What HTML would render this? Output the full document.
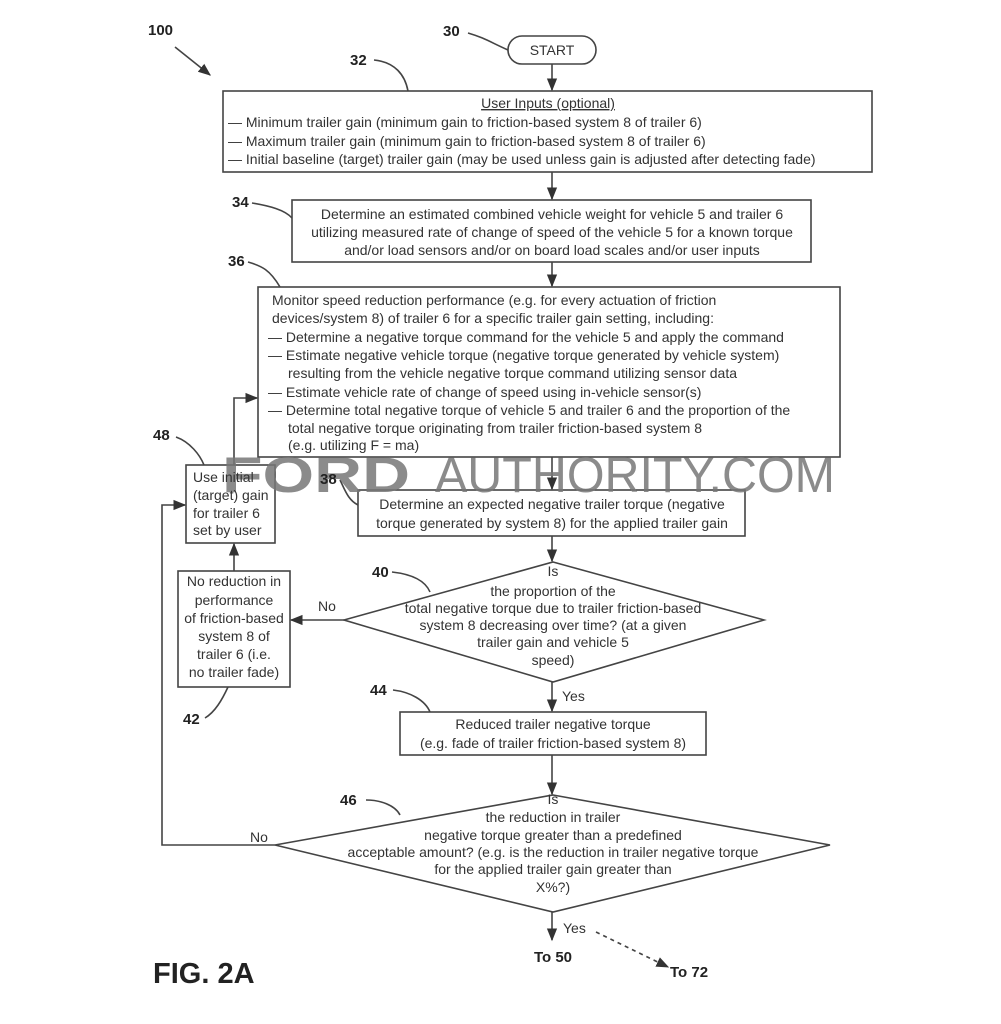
<!DOCTYPE html>
<html><head><meta charset="utf-8"><style>
html,body{margin:0;padding:0;background:#fff}
svg{display:block}
text{font-family:"Liberation Sans",Arial,sans-serif;fill:#333}
.t{font-size:14px}
.c{text-anchor:middle}
.n{font-weight:bold;font-size:15px;fill:#222}
</style></head><body>
<svg width="1001" height="1024" viewBox="0 0 1001 1024" xmlns="http://www.w3.org/2000/svg">
<defs><marker id="a" viewBox="0 0 10 10" refX="9" refY="5" markerWidth="8" markerHeight="8" orient="auto"><path d="M0,1 L10,5 L0,9 z" fill="#333"/></marker></defs>
<g stroke="#444" stroke-width="1.6" fill="none">
<rect x="508" y="36" width="88" height="28" rx="14"/>
<rect x="223" y="91" width="649" height="81"/>
<rect x="292" y="200" width="519" height="62"/>
<rect x="258" y="287" width="582" height="170"/>
<rect x="358" y="490" width="387" height="46"/>
<rect x="186" y="465" width="89" height="78"/>
<rect x="178" y="571" width="112" height="116"/>
<rect x="400" y="712" width="306" height="43"/>
<polygon points="553,562 764,620 553,682 344,620"/>
<polygon points="553,795 830,845 553,912 275,845"/>
<g marker-end="url(#a)">
<line x1="552" y1="64" x2="552" y2="90"/>
<line x1="552" y1="172" x2="552" y2="199"/>
<line x1="552" y1="262" x2="552" y2="286"/>
<line x1="552" y1="457" x2="552" y2="489"/>
<line x1="552" y1="536" x2="552" y2="561"/>
<line x1="552" y1="682" x2="552" y2="711"/>
<line x1="552" y1="755" x2="552" y2="794"/>
<line x1="552" y1="912" x2="552" y2="940"/>
<line x1="344" y1="620" x2="291" y2="620"/>
<line x1="234" y1="571" x2="234" y2="544"/>
<polyline points="234,465 234,398 257,398"/>
<polyline points="275,845 162,845 162,505 185,505"/>
<path d="M175,47 L210,75"/>
<path d="M596,932 L668,967" stroke-dasharray="4,4"/>
</g>
<path d="M468,33 C485,38 490,42 508,50"/>
<path d="M374,60 C395,62 405,75 408,91"/>
<path d="M252,203 C270,206 285,210 292,218"/>
<path d="M248,262 C262,266 270,270 280,287"/>
<path d="M176,437 C190,442 200,455 204,465"/>
<path d="M340,480 C345,490 348,500 358,505"/>
<path d="M392,572 C410,574 425,580 430,592"/>
<path d="M205,718 C215,712 222,700 228,687"/>
<path d="M393,690 C410,692 425,700 430,712"/>
<path d="M366,800 C380,800 395,805 400,815"/>
</g>
<text class="n" x="148" y="35">100</text>
<text class="n" x="443" y="36">30</text>
<text class="n" x="350" y="65">32</text>
<text class="n" x="232" y="207">34</text>
<text class="n" x="228" y="266">36</text>
<text class="n" x="153" y="440">48</text>
<text class="n" x="372" y="577">40</text>
<text class="n" x="183" y="724">42</text>
<text class="n" x="370" y="695">44</text>
<text class="n" x="340" y="805">46</text>
<text class="t c" x="552" y="55">START</text>
<text class="t c" x="548" y="108" text-decoration="underline">User Inputs (optional)</text>
<text class="t" x="228" y="127">— Minimum trailer gain (minimum gain to friction-based system 8 of trailer 6)</text>
<text class="t" x="228" y="146">— Maximum trailer gain (minimum gain to friction-based system 8 of trailer 6)</text>
<text class="t" x="228" y="164">— Initial baseline (target) trailer gain (may be used unless gain is adjusted after detecting fade)</text>
<text class="t c" x="552" y="219">Determine an estimated combined vehicle weight for vehicle 5 and trailer 6</text>
<text class="t c" x="552" y="237">utilizing measured rate of change of speed of the vehicle 5 for a known torque</text>
<text class="t c" x="552" y="255">and/or load sensors and/or on board load scales and/or user inputs</text>
<text class="t" x="272" y="305">Monitor speed reduction performance (e.g. for every actuation of friction</text>
<text class="t" x="272" y="323">devices/system 8) of trailer 6 for a specific trailer gain setting, including:</text>
<text class="t" x="268" y="342">— Determine a negative torque command for the vehicle 5 and apply the command</text>
<text class="t" x="268" y="360">— Estimate negative vehicle torque (negative torque generated by vehicle system)</text>
<text class="t" x="288" y="378">resulting from the vehicle negative torque command utilizing sensor data</text>
<text class="t" x="268" y="397">— Estimate vehicle rate of change of speed using in-vehicle sensor(s)</text>
<text class="t" x="268" y="415">— Determine total negative torque of vehicle 5 and trailer 6 and the proportion of the</text>
<text class="t" x="288" y="433">total negative torque originating from trailer friction-based system 8</text>
<text class="t" x="288" y="450">(e.g. utilizing F = ma)</text>
<text x="222" y="492" textLength="188" lengthAdjust="spacingAndGlyphs" style="font-size:50px;font-weight:bold;fill:#777;opacity:0.85">FORD</text>
<text x="435" y="492" textLength="400" lengthAdjust="spacingAndGlyphs" style="font-size:50px;fill:#777;opacity:0.85">AUTHORITY.COM</text>
<text class="n" x="320" y="484">38</text>
<text class="t" x="193" y="482">Use initial</text>
<text class="t" x="193" y="500">(target) gain</text>
<text class="t" x="193" y="518">for trailer 6</text>
<text class="t" x="193" y="535">set by user</text>
<text class="t c" x="552" y="509">Determine an expected negative trailer torque (negative</text>
<text class="t c" x="552" y="528">torque generated by system 8) for the applied trailer gain</text>
<text class="t c" x="553" y="576">Is</text>
<text class="t c" x="553" y="596">the proportion of the</text>
<text class="t c" x="553" y="613">total negative torque due to trailer friction-based</text>
<text class="t c" x="553" y="630">system 8 decreasing over time? (at a given</text>
<text class="t c" x="553" y="647">trailer gain and vehicle 5</text>
<text class="t c" x="553" y="665">speed)</text>
<text class="t" x="318" y="611">No</text>
<text class="t c" x="234" y="586">No reduction in</text>
<text class="t c" x="234" y="605">performance</text>
<text class="t c" x="234" y="623">of friction-based</text>
<text class="t c" x="234" y="641">system 8 of</text>
<text class="t c" x="234" y="659">trailer 6 (i.e.</text>
<text class="t c" x="234" y="677">no trailer fade)</text>
<text class="t" x="562" y="701">Yes</text>
<text class="t c" x="553" y="729">Reduced trailer negative torque</text>
<text class="t c" x="553" y="748">(e.g. fade of trailer friction-based system 8)</text>
<text class="t c" x="553" y="804">Is</text>
<text class="t c" x="553" y="822">the reduction in trailer</text>
<text class="t c" x="553" y="840">negative torque greater than a predefined</text>
<text class="t c" x="553" y="857">acceptable amount? (e.g. is the reduction in trailer negative torque</text>
<text class="t c" x="553" y="874">for the applied trailer gain greater than</text>
<text class="t c" x="553" y="892">X%?)</text>
<text class="t" x="250" y="842">No</text>
<text class="t" x="563" y="933">Yes</text>
<text class="n c" x="553" y="962">To 50</text>
<text class="n" x="670" y="977">To 72</text>
<text x="153" y="983" style="font-size:29px;font-weight:bold;fill:#222">FIG. 2A</text>
</svg>
</body></html>
